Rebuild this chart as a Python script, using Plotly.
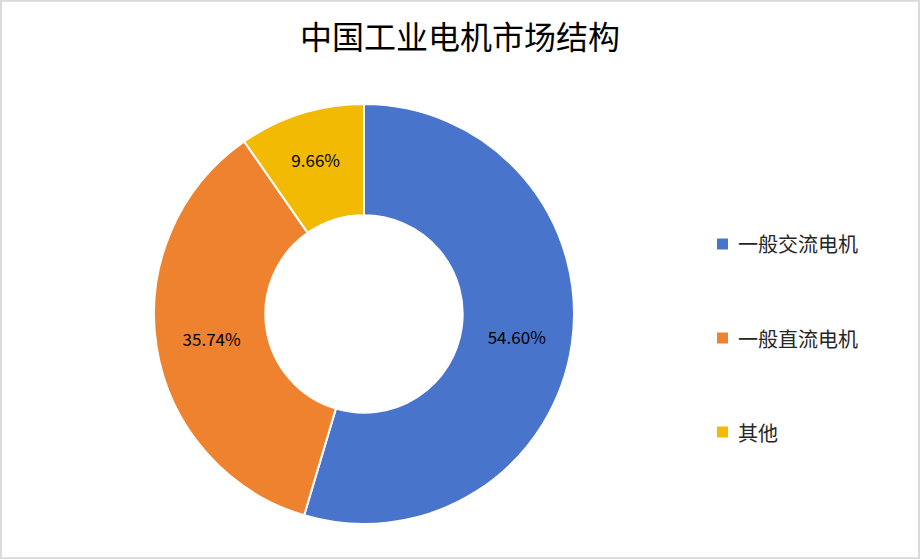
import plotly.graph_objects as go

title = "中国工业电机市场结构"
categories = ["一般交流电机", "一般直流电机", "其他"]
shares = [54.60, 35.74, 9.66]
colors = ["#4874CB", "#EE822F", "#F2BA02"]

W, H = 920, 559
font_family = "Noto Sans CJK SC, Microsoft YaHei, sans-serif"

fig = go.Figure()
fig.add_trace(go.Pie(
    labels=categories,
    values=shares,
    marker=dict(colors=colors, line=dict(color="white", width=2)),
    hole=0.47,
    sort=False,
    direction="clockwise",
    rotation=0,
    textinfo="percent",
    texttemplate="%{percent:.2%}",
    textposition="inside",
    insidetextorientation="horizontal",
    textfont=dict(size=17, color="#000000", family=font_family),
    domain=dict(x=[154 / W, 574 / W], y=[(H - 524) / H, (H - 104) / H]),
    showlegend=False,
    hoverinfo="label+percent",
))

shapes = [dict(type="rect", xref="paper", yref="paper", x0=0.001, y0=0.0015, x1=0.999, y1=0.9985,
               line=dict(color="#D9D9D9", width=2), fillcolor="rgba(0,0,0,0)")]
annotations = []
legend_y = [244, 338, 432]
for cat, col, yy in zip(categories, colors, legend_y):
    shapes.append(dict(type="rect", xref="paper", yref="paper",
                       x0=717 / W, x1=728 / W, y0=(H - yy - 5.5) / H, y1=(H - yy + 5.5) / H,
                       fillcolor=col, line=dict(width=0)))
    annotations.append(dict(text=cat, xref="paper", yref="paper", x=736 / W, y=(H - yy) / H,
                            xanchor="left", yanchor="middle", showarrow=False,
                            font=dict(size=20, color="#262626", family=font_family)))

fig.update_layout(
    width=W, height=H,
    margin=dict(l=0, r=0, t=0, b=0),
    paper_bgcolor="white",
    plot_bgcolor="white",
    title=dict(text=title, x=0.5, xanchor="center", y=(H - 38) / H, yanchor="middle",
               font=dict(size=32, color="#000000", family=font_family)),
    shapes=shapes,
    annotations=annotations,
)

fig.write_html("out.html", config={"displayModeBar": False},
               post_script="document.body.style.margin='0';document.body.style.padding='0';")
